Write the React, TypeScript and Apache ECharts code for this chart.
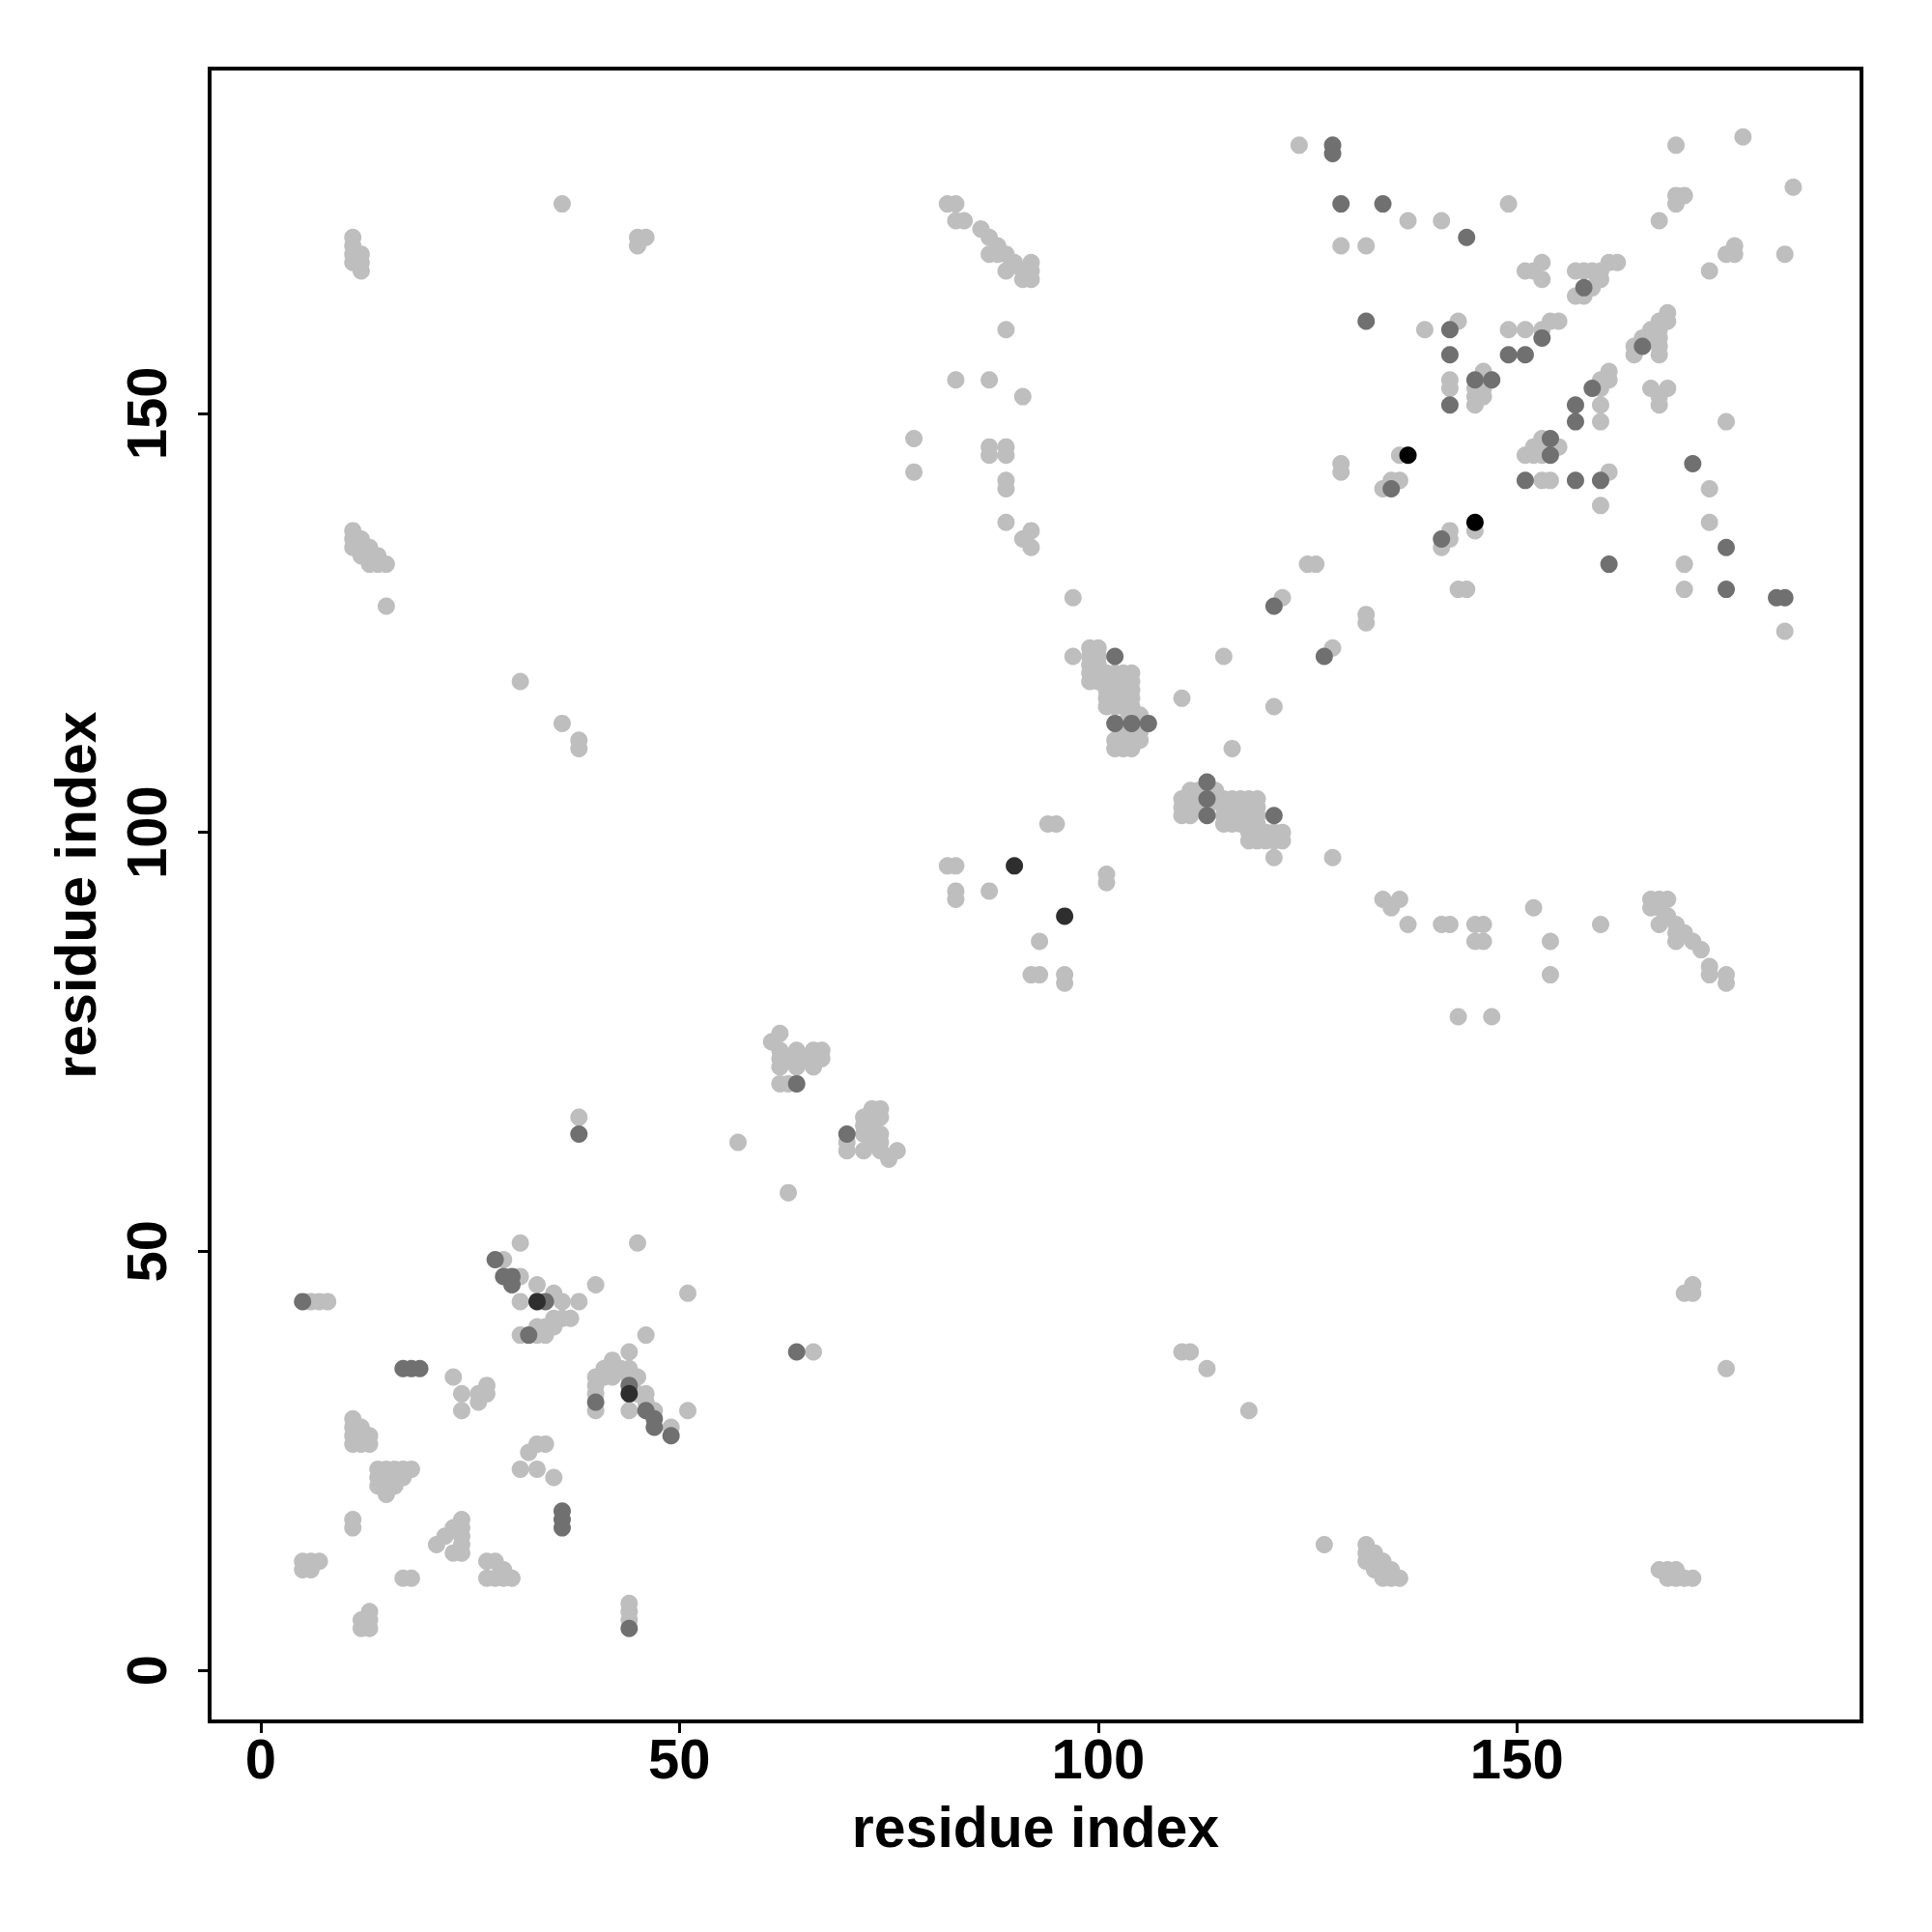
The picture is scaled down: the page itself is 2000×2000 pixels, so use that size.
import React, { useEffect, useRef } from "react";
import * as echarts from "echarts";

const tickValues = [0, 50, 100, 150];
const axisTitle = "residue index";

const lightPoints: [number, number][] = [
  [11,171],[11,170],[11,169],[12,169],[11,168],[12,168],[12,167],
  [36,175],[45,171],[46,171],[45,170],
  [124,182],[82,175],[83,175],[83,173],[84,173],
  [86,172],[87,171],[88,170],[87,169],[88,169],[89,169],[89,167],[90,168],[91,167],[91,166],[92,166],[92,167],[92,168],
  [89,160],[83,154],[87,154],[91,152],[78,147],[78,143],[87,146],[87,145],[89,146],[89,145],[89,142],[89,141],[89,137],[92,136],[91,135],[92,134],
  [169,182],[177,183],[183,177],[137,173],[141,173],[149,175],[129,170],[132,170],[169,176],[170,176],[169,175],[167,173],[176,170],[175,169],[176,169],[182,169],[173,167],
  [151,167],[152,167],[153,168],[153,166],
  [157,167],[158,167],[159,167],[160,167],[161,168],[162,168],[160,166],[159,165],[157,164],[158,164],
  [168,162],[167,161],[166,160],[165,159],[164,158],[164,157],[167,158],[167,157],[166,159],[167,159],[167,160],[168,161],
  [139,160],[143,161],[142,154],[142,153],
  [146,155],[146,153],[145,153],[145,152],[145,151],[146,152],
  [149,160],[151,160],[153,160],[154,161],[155,161],
  [160,154],[161,155],[161,154],[160,153],[160,151],[160,149],
  [166,153],[168,153],[167,152],[167,151],[175,149],
  [129,144],[129,143],[136,145],[136,142],[135,142],[134,141],
  [153,142],[154,142],[161,143],
  [151,145],[152,146],[153,147],[155,146],[152,145],[153,145],[153,146],
  [173,141],[160,139],[173,137],[145,136],[142,136],[142,135],[141,134],
  [125,132],[126,132],[170,132],[170,129],[143,129],[144,129],[182,124],[132,126],[132,125],[128,122],[128,97],
  [97,128],[122,128],[97,121],[110,116],[115,121],[121,115],[116,110],[121,97],[94,101],[95,101],[82,96],[83,96],[101,95],[101,94],[83,93],[87,93],[83,92],
  [99,118],[99,119],[99,120],[99,121],[99,122],[100,118],[100,119],[100,120],[100,121],[100,122],
  [101,115],[101,116],[101,117],[101,118],[101,119],[102,115],[102,116],[102,117],[102,118],[102,119],
  [103,115],[103,116],[103,117],[103,118],[103,119],[104,114],[104,115],[104,116],[104,117],[104,118],[104,119],[105,114],[103,113],[105,113],
  [102,110],[102,111],[103,110],[103,111],[104,110],[104,111],[104,112],[103,112],[105,111],[105,112],
  [118,99],[119,99],[120,99],[121,99],[122,99],[118,100],[119,100],[120,100],[121,100],[122,100],
  [115,101],[116,101],[117,101],[118,101],[119,101],[115,102],[116,102],[117,102],[118,102],[119,102],
  [115,103],[116,103],[117,103],[118,103],[119,103],[114,104],[115,104],[116,104],[117,104],[118,104],[119,104],[114,105],[113,103],[113,105],
  [110,102],[111,102],[110,103],[111,103],[110,104],[111,104],[112,104],[112,103],[111,105],[112,105],
  [134,92],[135,91],[136,92],[137,89],[141,89],[142,89],[145,89],[146,89],[145,87],[146,87],[152,91],[154,87],[154,83],[160,89],[143,78],[147,78],
  [166,92],[167,92],[168,92],[166,91],[167,91],[168,90],[167,89],[169,89],[169,88],[170,88],[169,87],[171,87],[172,86],
  [173,84],[173,83],[175,83],[175,82],[171,46],[170,45],[171,45],
  [93,87],[92,83],[93,83],[96,83],[96,82],
  [62,76],[61,75],[62,74],[64,74],[66,74],[67,74],[62,73],[63,73],[64,73],[65,73],[66,73],[67,73],[62,72],[64,72],[66,72],[62,70],[63,70],
  [73,67],[74,67],[72,66],[73,66],[74,66],[72,65],[73,65],[72,64],[73,64],[74,64],[73,63],[74,63],[70,63],[70,62],[72,62],[74,62],[76,62],[75,61],[63,57],
  [11,136],[11,135],[12,135],[11,134],[12,134],[13,134],[12,133],[13,133],[14,133],[13,132],[14,132],[15,132],[15,127],[31,118],[36,113],[38,111],[38,110],
  [38,66],[57,63],[31,51],[45,51],[29,49],[31,47],[33,46],[40,46],[51,45],[31,44],[35,45],[36,44],[38,44],[6,44],[7,44],[8,44],
  [31,40],[33,40],[34,40],[33,41],[34,41],[35,42],[36,42],[37,42],[35,41],[23,35],[24,33],[26,33],[27,34],[27,33],[24,31],[26,32],[46,40],[44,38],
  [42,37],[41,36],[40,35],[41,35],[42,35],[43,36],[40,34],[40,33],[40,31],[44,36],[44,35],[45,35],[44,31],[46,33],[47,31],[49,29],[51,31],[45,33],[46,32],
  [11,30],[11,29],[12,29],[13,28],[11,28],[11,27],[12,27],[13,27],
  [14,24],[15,24],[16,24],[17,24],[18,24],[14,23],[15,23],[16,23],[17,23],[16,22],[15,21],[14,22],
  [32,26],[33,27],[34,27],[31,24],[33,24],[35,23],
  [11,18],[11,17],[24,18],[24,17],[24,16],[24,15],[24,14],[23,17],[22,16],[21,15],[23,14],
  [5,13],[6,13],[7,13],[5,12],[6,12],[17,11],[18,11],
  [27,13],[28,13],[27,11],[28,11],[29,12],[30,11],[29,11],
  [13,7],[12,6],[12,5],[13,5],[13,6],[44,8],[44,7],[44,6],
  [66,38],[110,38],[111,38],[113,36],[118,31],
  [175,36],[127,15],[132,15],[132,14],[133,14],[132,13],[133,13],[134,13],[133,12],[135,12],[134,11],[135,11],[136,11],
  [167,12],[168,12],[169,12],[168,11],[169,11],[170,11],[171,11],
];

const midPoints: [number, number][] = [
  [128,182],[128,181],[129,175],[134,175],[144,171],[158,165],[165,158],[132,161],[142,160],[142,157],[142,151],
  [145,154],[147,154],[149,157],[151,157],[153,159],[159,153],[157,151],[157,149],[171,144],[135,141],[141,135],
  [151,142],[157,142],[160,142],[154,147],[154,145],[161,132],[175,134],[175,129],[181,128],[182,128],[127,121],[121,127],
  [102,121],[102,113],[104,113],[106,113],[113,106],[113,104],[113,102],[121,102],
  [38,64],[64,70],[70,64],[64,38],
  [28,49],[29,47],[30,47],[30,46],[34,44],[5,44],
  [32,40],[17,36],[18,36],[19,36],[40,32],[44,34],[46,31],[47,30],[47,29],[49,28],[36,19],[36,18],[36,17],[44,5],
];

const darkPoints: [number, number][] = [[90,96],[96,90],[33,44],[44,33]];
const blackPoints: [number, number][] = [[137,145],[145,137]];

const FONT = "Liberation Sans, Arial, Helvetica, sans-serif";
const labelStyle = { fontFamily: FONT, fontWeight: "bold" as const, fontSize: 58, color: "#000" };
const nameStyle = { fontFamily: FONT, fontWeight: "bold" as const, fontSize: 59, color: "#000" };

export default function App() {
  const ref = useRef<HTMLDivElement>(null);
  useEffect(() => {
    if (!ref.current) return;
    const chart = echarts.init(ref.current, null, { renderer: "svg" });
    const mkAxis = (isY: boolean) => ({
      type: "value",
      min: -6.1,
      max: 191.15,
      axisLine: { show: false, onZero: false },
      splitLine: { show: false },
      axisTick: {
        show: true,
        inside: false,
        length: 12,
        customValues: tickValues,
        lineStyle: { color: "#000", width: 3 },
      },
      axisLabel: {
        show: true,
        customValues: tickValues,
        margin: isY ? 37 : 9,
        rotate: isY ? 90 : 0,
        ...labelStyle,
      },
      name: axisTitle,
      nameLocation: "middle",
      nameGap: isY ? 109 : 80,
      nameRotate: isY ? 90 : 0,
      nameTextStyle: nameStyle,
    });
    const mkSeries = (data: [number, number][], color: string) => ({
      type: "scatter",
      data,
      symbol: "circle",
      symbolSize: 18,
      itemStyle: { color, opacity: 1 },
      emphasis: { disabled: true },
      silent: true,
    });
    chart.setOption({
      animation: false,
      backgroundColor: "#fff",
      grid: {
        left: 217,
        top: 71,
        right: 73,
        bottom: 218,
        show: true,
        borderColor: "#000",
        borderWidth: 4,
        backgroundColor: "transparent",
      },
      xAxis: mkAxis(false),
      yAxis: mkAxis(true),
      series: [
        mkSeries(lightPoints, "#BEBEBE"),
        mkSeries(midPoints, "#707070"),
        mkSeries(darkPoints, "#2E2E2E"),
        mkSeries(blackPoints, "#000000"),
      ],
    });
    return () => chart.dispose();
  }, []);
  return (
    <div
      ref={ref}
      style={{ position: "absolute", left: 0, top: 0, width: 2000, height: 2000 }}
    />
  );
}
